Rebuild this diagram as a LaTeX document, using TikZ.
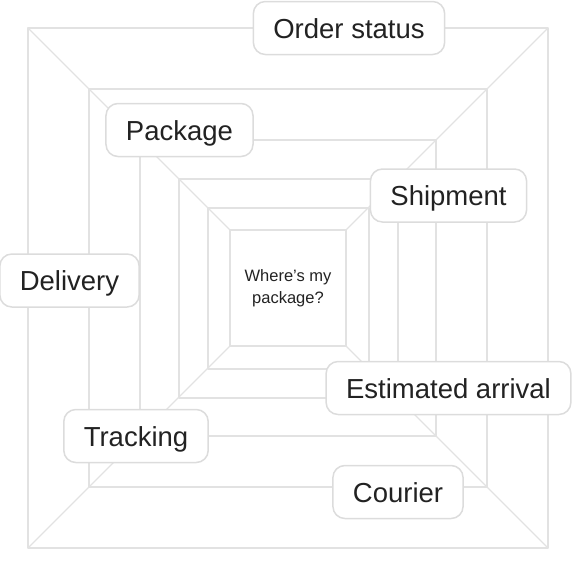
\documentclass[tikz,border=0pt]{standalone}
\usepackage{fontspec}
\setmainfont{Liberation Sans}
\definecolor{gridgray}{HTML}{E2E2E2}
\definecolor{boxgray}{HTML}{DCDCDC}
\definecolor{txtgray}{HTML}{222222}
\begin{document}
\begin{tikzpicture}[x=1pt,y=-1pt,line join=round,line cap=round,
	sq/.style={draw=gridgray,line width=1.2pt},
	tag/.style={rectangle,draw=boxgray,fill=white,line width=1.5pt,rounded corners=12pt,
		inner xsep=20pt,minimum height=53pt,text height=20pt,text depth=0pt,
		text=txtgray,font=\fontsize{27.5}{32}\selectfont}]
	\useasboundingbox (0,0) rectangle (574,574);
	% nested squares
	\draw[sq] (28,28) rectangle (548,548);
	\draw[sq] (89,89) rectangle (487,487);
	\draw[sq] (140,140) rectangle (436,436);
	\draw[sq] (179,179) rectangle (398,398);
	\draw[sq] (208,208) rectangle (369,369);
	\draw[sq] (230,230) rectangle (346,346);
	% corner diagonals
	\draw[sq] (28,28)--(230,230);
	\draw[sq] (548,28)--(346,230);
	\draw[sq] (28,548)--(230,346);
	\draw[sq] (548,548)--(346,346);
	% labels
	\path (288,288) node[align=center,text=txtgray,
	font=\fontsize{16.5}{22}\selectfont](core){Where’s my\\package?};
	\path (349,28) node[tag](ord){Order status}
	(179.5,130) node[tag](pkg){Package}
	(448.5,195.5) node[tag](shp){Shipment}
	(69.5,280.5) node[tag](dlv){Delivery}
	(448.5,388) node[tag](eta){Estimated arrival}
	(136,436) node[tag](trk){Tracking}
	(398,492) node[tag](cou){Courier};
\end{tikzpicture}
\end{document}
